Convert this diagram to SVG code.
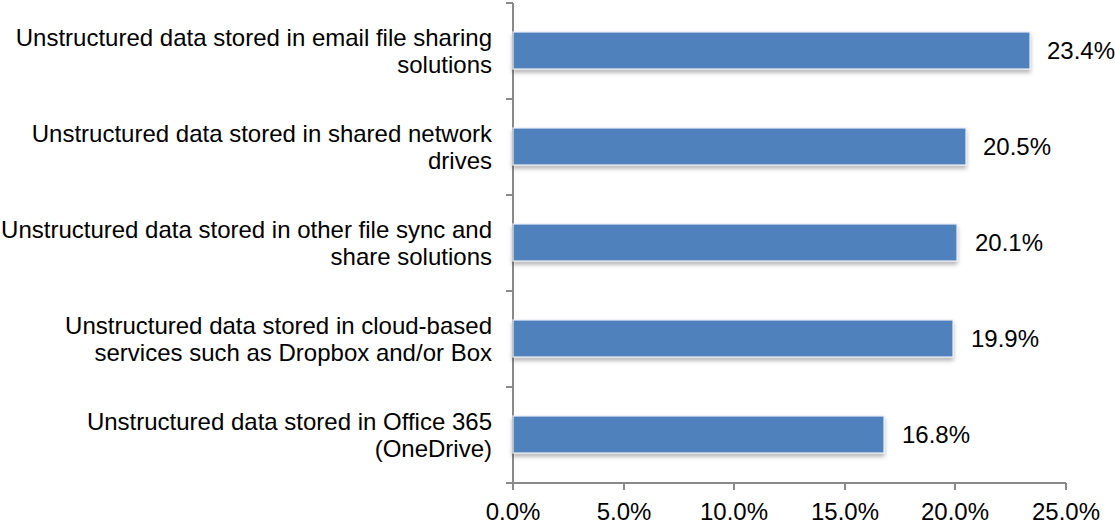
<svg xmlns="http://www.w3.org/2000/svg" width="1115" height="527" viewBox="0 0 1115 527">
<style>
text{font-family:"Liberation Sans",Arial,sans-serif;font-size:24px;fill:#000}
.cat{text-anchor:end}
.tick{text-anchor:middle}
.bar{fill:#4F81BD;stroke:#e8eef6;stroke-width:1.2;filter:url(#sh)}
.ax{stroke:#898989;stroke-width:2;fill:none}
</style>
<defs>
<filter id="sh" x="-5%" y="-20%" width="110%" height="160%">
<feDropShadow dx="0" dy="3" stdDeviation="2" flood-color="#000" flood-opacity="0.3"/>
</filter>
</defs>
<g id="axes">
<path class="ax" d="M513,3V483H1066M506,3H513M506,99H513M506,195H513M506,291H513M506,387H513M506,483H513M513,483V490M624,483V490M734,483V490M845,483V490M955,483V490M1066,483V490"/>
<text class="tick" x="513" y="520">0.0%</text>
<text class="tick" x="624" y="520">5.0%</text>
<text class="tick" x="734" y="520">10.0%</text>
<text class="tick" x="845" y="520">15.0%</text>
<text class="tick" x="955" y="520">20.0%</text>
<text class="tick" x="1066" y="520">25.0%</text>
</g>
<g id="bar1">
<rect class="bar" x="513" y="32" width="517" height="37"/>
<text x="1047" y="59">23.4%</text>
<text class="cat" x="492" y="46">Unstructured data stored in email file sharing</text>
<text class="cat" x="492" y="73">solutions</text>
</g>
<g id="bar2">
<rect class="bar" x="513" y="128" width="453" height="37"/>
<text x="983" y="155">20.5%</text>
<text class="cat" x="492" y="142">Unstructured data stored in shared network</text>
<text class="cat" x="492" y="169">drives</text>
</g>
<g id="bar3">
<rect class="bar" x="513" y="224" width="444" height="37"/>
<text x="975" y="251">20.1%</text>
<text class="cat" x="492" y="238">Unstructured data stored in other file sync and</text>
<text class="cat" x="492" y="265">share solutions</text>
</g>
<g id="bar4">
<rect class="bar" x="513" y="320" width="440" height="37"/>
<text x="971" y="347">19.9%</text>
<text class="cat" x="492" y="334">Unstructured data stored in cloud-based</text>
<text class="cat" x="492" y="361">services such as Dropbox and/or Box</text>
</g>
<g id="bar5">
<rect class="bar" x="513" y="416" width="371" height="37"/>
<text x="902" y="443">16.8%</text>
<text class="cat" x="492" y="430">Unstructured data stored in Office 365</text>
<text class="cat" x="492" y="457">(OneDrive)</text>
</g>
</svg>
